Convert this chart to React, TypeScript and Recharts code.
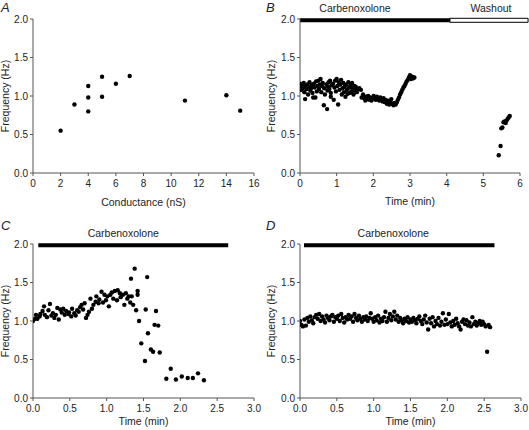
import React from "react";
import {
  ScatterChart,
  Scatter,
  XAxis,
  YAxis,
  ReferenceArea,
} from "recharts";

const FONT = "Arial, 'Liberation Sans', Helvetica, sans-serif";
const AXIS = "#555";
const TEXT = "#222";

// A: frequency vs coupling conductance
const condA = [2, 3, 4, 4, 4, 5, 5, 6, 7, 11, 14, 15];
const freqA = [0.55, 0.89, 1.13, 0.98, 0.8, 1.25, 0.99, 1.16, 1.26, 0.94, 1.01, 0.81];

// B: carbenoxolone then washout
const timeB = [
  0.0, 0.02, 0.04, 0.06, 0.08, 0.1, 0.12, 0.14, 0.16, 0.18, 0.2, 0.22, 0.24, 0.26, 0.28, 0.3,
  0.32, 0.34, 0.36, 0.38, 0.4, 0.42, 0.44, 0.46, 0.48, 0.5, 0.52, 0.54, 0.56, 0.58, 0.6, 0.62,
  0.65, 0.66, 0.68, 0.74, 0.72, 0.75, 0.76, 0.78, 0.8, 0.82, 0.84, 0.86, 0.84, 0.9, 0.92, 0.94,
  0.96, 0.98, 1.0, 1.02, 1.04, 1.06, 1.08, 1.1, 1.12, 1.14, 1.16, 1.18, 1.2, 1.22, 1.24, 1.26,
  1.28, 1.3, 1.32, 1.34, 1.36, 1.38, 1.4, 1.42, 1.44, 1.46, 1.48, 1.5, 1.52, 1.55, 1.58, 1.62,
  1.66, 1.68, 1.72, 1.75, 1.78, 1.8, 1.83, 1.86, 1.89, 1.92, 1.95, 1.98, 2.01, 2.04, 2.07, 2.1,
  2.13, 2.16, 2.19, 2.22, 2.25, 2.28, 2.31, 2.34, 2.37, 2.4, 2.43, 2.46, 2.49, 2.52, 2.55, 2.58,
  2.61, 2.64, 2.67, 2.7, 2.73, 2.76, 2.79, 2.82, 2.85, 2.88, 2.91, 2.94, 2.97, 3.0, 3.03, 3.06,
  3.09, 3.12,
  5.42, 5.47, 5.49, 5.52, 5.55, 5.58, 5.61, 5.63, 5.66, 5.69, 5.72,
];
const freqB = [
  1.16, 1.12, 1.08, 1.15, 1.1, 1.17, 1.05, 0.96, 1.13, 1.09, 1.15, 1.02, 1.12, 1.18, 1.07, 1.1,
  1.14, 1.04, 0.98, 1.16, 1.11, 0.98, 1.19, 1.06, 1.13, 1.2, 1.09, 1.15, 1.22, 1.05, 1.13, 1.17,
  0.88, 1.1, 1.02, 0.83, 1.15, 1.07, 1.12, 1.18, 1.09, 1.2, 1.04, 1.14, 0.99, 1.16, 0.95, 1.11,
  1.2, 1.06, 1.22, 1.13, 0.89, 1.18, 1.08, 1.15, 1.21, 1.02, 1.1, 1.17, 1.05, 1.12, 0.99, 1.15,
  1.08, 1.03, 1.18, 1.11, 1.04, 1.14, 1.06, 1.17, 1.1, 1.02, 1.13, 1.07, 1.12, 1.05, 1.09, 1.1,
  1.08, 0.98, 1.02, 0.97, 0.94, 0.99, 0.96, 1.0, 0.95, 0.98, 0.94, 0.97, 1.0, 0.96, 0.95, 0.99,
  0.97, 0.94, 0.98, 0.96, 0.93, 0.97, 0.92, 0.95, 0.9, 0.94, 0.89, 0.93, 0.96, 0.9, 0.88, 0.91,
  0.89, 0.92, 0.95, 0.98, 1.02, 1.05, 1.08, 1.11, 1.13, 1.16, 1.19, 1.21, 1.24, 1.27, 1.22, 1.25,
  1.23, 1.24,
  0.23, 0.35, 0.58, 0.59, 0.66, 0.67, 0.65, 0.68, 0.7, 0.72, 0.74,
];

// C: carbenoxolone, rise then collapse
const timeC = [
  0.0, 0.03, 0.04, 0.06, 0.09, 0.1, 0.13, 0.15, 0.16, 0.19, 0.21, 0.23, 0.25, 0.27, 0.29, 0.31,
  0.33, 0.35, 0.37, 0.39, 0.41, 0.43, 0.45, 0.48, 0.49, 0.52, 0.53, 0.56, 0.58, 0.6, 0.62, 0.64,
  0.66, 0.68, 0.7, 0.72, 0.74, 0.76, 0.78, 0.8, 0.82, 0.85, 0.86, 0.89, 0.9, 0.93, 0.95, 0.97,
  0.99, 1.01, 1.03, 1.05, 1.07, 1.09, 1.11, 1.14, 1.15, 1.18, 1.19, 1.22, 1.24, 1.26, 1.28, 1.3,
  1.32, 1.33, 1.34, 1.36, 1.38, 1.4, 1.42, 1.42, 1.44, 1.47, 1.52, 1.53, 1.55, 1.56, 1.6, 1.63,
  1.65, 1.67, 1.7, 1.72, 1.81, 1.87, 1.94, 2.02, 2.1, 2.17, 2.24, 2.32,
];
const freqC = [
  1.0, 1.03, 1.08, 1.03, 1.06, 1.09, 1.13, 1.19, 1.08, 1.05, 1.14, 1.22, 1.07, 1.1, 1.04, 1.08,
  1.17, 1.02, 1.15, 1.11, 1.16, 1.08, 1.13, 1.09, 1.11, 1.06, 1.16, 1.1, 1.07, 1.14, 1.12, 1.18,
  1.21, 1.15, 1.23, 1.04, 1.08, 1.12, 1.29, 1.16, 1.21, 1.25, 1.32, 1.23, 1.28, 1.38, 1.24, 1.34,
  1.27, 1.32, 1.19, 1.34, 1.37, 1.29, 1.39, 1.27, 1.4, 1.36, 1.31, 1.34, 1.21, 1.36, 1.29, 1.32,
  1.24, 1.55, 1.32, 1.21, 1.68, 1.14, 1.39, 1.34, 1.0, 0.71, 0.48, 1.15, 1.57, 0.84, 0.63, 0.6,
  0.95, 1.13, 0.94, 0.59, 0.25, 0.38, 0.24, 0.28, 0.26, 0.26, 0.32, 0.23,
];

// D: carbenoxolone, no effect
const timeD = [
  0.0, 0.02, 0.04, 0.06, 0.08, 0.1, 0.12, 0.14, 0.16, 0.18, 0.2, 0.22, 0.24, 0.26, 0.28, 0.3,
  0.32, 0.34, 0.36, 0.38, 0.4, 0.42, 0.44, 0.46, 0.48, 0.5, 0.52, 0.54, 0.56, 0.58, 0.6, 0.62,
  0.64, 0.66, 0.68, 0.7, 0.72, 0.74, 0.76, 0.78, 0.8, 0.82, 0.84, 0.86, 0.88, 0.9, 0.92, 0.94,
  0.96, 0.98, 1.0, 1.02, 1.04, 1.06, 1.08, 1.1, 1.12, 1.14, 1.16, 1.18, 1.2, 1.22, 1.24, 1.26,
  1.28, 1.3, 1.32, 1.34, 1.36, 1.38, 1.4, 1.42, 1.44, 1.46, 1.48, 1.5, 1.52, 1.54, 1.56, 1.58,
  1.6, 1.62, 1.64, 1.66, 1.68, 1.7, 1.72, 1.74, 1.76, 1.78, 1.8, 1.82, 1.84, 1.86, 1.88, 1.9,
  1.92, 1.94, 1.96, 1.98, 2.0, 2.02, 2.04, 2.06, 2.08, 2.1, 2.12, 2.14, 2.16, 2.18, 2.2, 2.22,
  2.24, 2.26, 2.28, 2.3, 2.32, 2.34, 2.36, 2.38, 2.4, 2.42, 2.44, 2.46, 2.48, 2.5, 2.52, 2.54,
  2.56, 2.58,
];
const freqD = [
  1.0, 0.95, 0.93, 1.02, 0.94, 1.04, 0.99, 1.06, 1.01, 0.97, 1.05, 1.08, 1.03, 1.09, 1.0, 1.06,
  1.02, 0.98, 1.07, 1.04, 1.01, 1.06, 1.08, 0.99, 1.05, 1.03, 1.07, 1.0, 1.09, 1.04, 0.98, 1.05,
  1.02, 1.08, 1.03, 1.06, 0.99, 1.09, 1.04, 1.01, 1.07, 1.03, 0.99, 1.05, 1.02, 1.06, 1.0, 1.04,
  1.1, 1.03, 0.99, 1.05, 1.01, 1.07, 0.98, 1.03, 1.0, 1.05, 1.12, 0.99, 1.04, 1.09, 1.01, 1.06,
  1.12, 1.02, 1.07, 0.99, 1.04, 1.01, 0.97, 1.03, 1.0, 1.05, 0.98, 1.02, 0.99, 1.04, 1.01, 0.97,
  1.03, 1.06, 1.0, 0.96, 1.02, 1.07, 0.98, 0.89, 1.03, 0.97, 1.05, 0.93, 1.0, 0.96, 1.04, 0.94,
  0.99, 1.1, 0.95, 1.02, 0.96, 1.09, 0.98, 0.93, 1.0, 0.95, 1.03, 0.97, 0.93, 0.89, 0.99, 1.02,
  0.96, 1.01, 0.94, 0.98, 0.93, 1.05, 0.96, 0.99, 0.94, 0.97, 1.0, 0.95, 0.99, 0.96, 0.93, 0.6,
  0.95, 0.92,
];

const freqTicks = [0, 0.5, 1, 1.5, 2];

const zip = (xs: number[], ys: number[]) => xs.map((x, i) => ({ x, y: ys[i] }));

const Dot = (p: any) => <circle cx={p.cx} cy={p.cy} r={2.2} fill="#000" />;

const tickStyle = { fill: TEXT, fontSize: 10, fontFamily: FONT };
const labelStyle = { fill: TEXT, fontSize: 10.5, fontFamily: FONT };

interface Bar {
  x1: number;
  x2: number;
  text: string;
  dx: number;
  open?: boolean;
}

interface PanelProps {
  left: number;
  top: number;
  width: number;
  marginTop: number;
  marginRight: number;
  yWidth: number;
  xHeight: number;
  xLabel: string;
  xLabelOffset: number;
  yLabelOffset: number;
  xDomain: [number, number];
  xTicks: number[];
  xFmt: (v: number) => string;
  data: { x: number; y: number }[];
  bars?: Bar[];
}

function Panel(p: PanelProps) {
  return (
    <div style={{ position: "absolute", left: p.left, top: p.top }}>
      <ScatterChart
        width={p.width}
        height={215}
        margin={{ top: p.marginTop, right: p.marginRight, bottom: 0, left: 0 }}
      >
        <XAxis
          type="number"
          dataKey="x"
          domain={p.xDomain}
          ticks={p.xTicks}
          interval={0}
          tickFormatter={p.xFmt}
          tick={tickStyle}
          tickSize={3}
          tickMargin={4}
          stroke={AXIS}
          height={p.xHeight}
          allowDataOverflow
          label={{
            value: p.xLabel,
            position: "insideBottom",
            offset: p.xLabelOffset,
            style: labelStyle,
          }}
        />
        <YAxis
          type="number"
          dataKey="y"
          domain={[0, 2]}
          ticks={freqTicks}
          interval={0}
          tickFormatter={(v: number) => v.toFixed(1)}
          tick={tickStyle}
          tickSize={3}
          stroke={AXIS}
          width={p.yWidth}
          allowDataOverflow
          label={{
            value: "Frequency (Hz)",
            angle: -90,
            position: "insideLeft",
            offset: p.yLabelOffset,
            textAnchor: "middle",
            style: { ...labelStyle, textAnchor: "middle" },
          }}
        />
        {(p.bars || []).map((b, i) => (
          <ReferenceArea
            key={i}
            x1={b.x1}
            x2={b.x2}
            y1={1.957}
            y2={2.009}
            fill={b.open ? "#fff" : "#000"}
            fillOpacity={1}
            stroke="#000"
            strokeWidth={b.open ? 1 : 0}
            ifOverflow="visible"
            label={{ value: b.text, position: "top", offset: 6, dx: b.dx, style: labelStyle }}
          />
        ))}
        <Scatter data={p.data} shape={Dot} isAnimationActive={false} />
      </ScatterChart>
    </div>
  );
}

export default function App() {
  const one = (v: number) => v.toFixed(1);
  const int = (v: number) => String(v);
  return (
    <div
      style={{
        position: "absolute",
        left: 0,
        top: 0,
        width: 529,
        height: 430,
        background: "#fff",
        fontFamily: FONT,
      }}
    >
      <Panel
        left={0}
        top={0}
        width={264}
        marginTop={19}
        marginRight={10}
        yWidth={33}
        xHeight={42}
        xLabel="Conductance (nS)"
        xLabelOffset={9.5}
        yLabelOffset={5}
        xDomain={[0, 16]}
        xTicks={[0, 2, 4, 6, 8, 10, 12, 14, 16]}
        xFmt={int}
        data={zip(condA, freqA)}
      />
      <Panel
        left={264}
        top={0}
        width={265}
        marginTop={19}
        marginRight={9}
        yWidth={36}
        xHeight={42}
        xLabel="Time (min)"
        xLabelOffset={10}
        yLabelOffset={7}
        xDomain={[0, 6]}
        xTicks={[0, 1, 2, 3, 4, 5, 6]}
        xFmt={int}
        data={zip(timeB, freqB)}
        bars={[
          { x1: 0, x2: 4.09, text: "Carbenoxolone", dx: -20 },
          { x1: 4.09, x2: 6.22, text: "Washout", dx: 2, open: true },
        ]}
      />
      <Panel
        left={0}
        top={215}
        width={264}
        marginTop={29}
        marginRight={10}
        yWidth={33}
        xHeight={32}
        xLabel="Time (min)"
        xLabelOffset={5.5}
        yLabelOffset={5}
        xDomain={[0, 3]}
        xTicks={[0, 0.5, 1, 1.5, 2, 2.5, 3]}
        xFmt={one}
        data={zip(timeC, freqC)}
        bars={[{ x1: 0.072, x2: 2.65, text: "Carbenoxolone", dx: -10 }]}
      />
      <Panel
        left={264}
        top={215}
        width={265}
        marginTop={29}
        marginRight={8}
        yWidth={36}
        xHeight={32}
        xLabel="Time (min)"
        xLabelOffset={5.5}
        yLabelOffset={7}
        xDomain={[0, 3]}
        xTicks={[0, 0.5, 1, 1.5, 2, 2.5, 3]}
        xFmt={one}
        data={zip(timeD, freqD)}
        bars={[{ x1: 0.054, x2: 2.64, text: "Carbenoxolone", dx: -6 }]}
      />
      <svg
        width={529}
        height={430}
        style={{ position: "absolute", left: 0, top: 0, pointerEvents: "none" }}
      >
        {[
          ["A", 1, 12],
          ["B", 266, 12],
          ["C", 1, 230],
          ["D", 266, 230],
        ].map(([t, x, y]) => (
          <text
            key={t as string}
            x={x as number}
            y={y as number}
            fontSize={13}
            fontStyle="italic"
            fontFamily={FONT}
            fill={TEXT}
          >
            {t}
          </text>
        ))}
      </svg>
    </div>
  );
}
